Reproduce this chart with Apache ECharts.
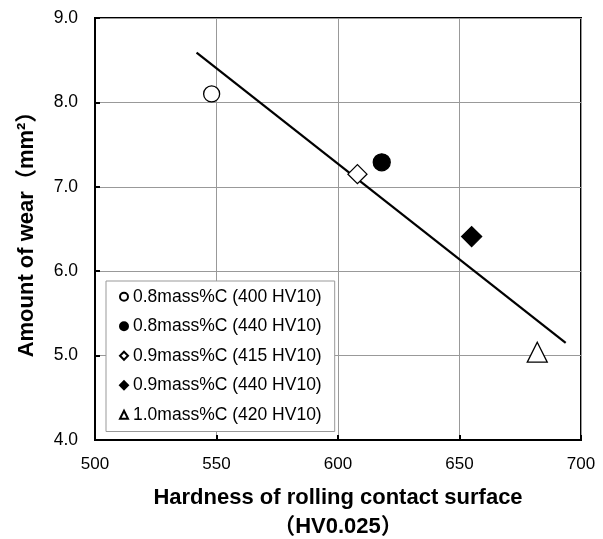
<!DOCTYPE html>
<html>
<head>
<meta charset="utf-8">
<script src="https://cdn.jsdelivr.net/npm/echarts@6/dist/echarts.min.js"></script>
<style>
html,body{margin:0;padding:0;background:#fff;}
#c{width:603px;height:539px;}
</style>
</head>
<body>
<div id="c"></div>
<script>
// ---- data ----
const seriesNames = [
  '0.8mass%C (400 HV10)',
  '0.8mass%C (440 HV10)',
  '0.9mass%C (415 HV10)',
  '0.9mass%C (440 HV10)',
  '1.0mass%C (420 HV10)'
];
const hardness = [548, 618, 608, 655, 682];
const wear = [8.10, 7.29, 7.15, 6.41, 5.04];
const trendX = [541.8, 693.7];
const trendY = [8.59, 5.15];
const xTicks = [500, 550, 600, 650, 700];
const yTicks = [4.0, 5.0, 6.0, 7.0, 8.0, 9.0];

const FONT = '"Liberation Sans", Arial, "Noto Sans CJK JP", sans-serif';
const styles = [
  {symbol: 'circle', size: 16, color: '#fff'},
  {symbol: 'circle', size: 17, color: '#000'},
  {symbol: 'diamond', size: 19, color: '#fff'},
  {symbol: 'diamond', size: 20, color: '#000'},
  {symbol: 'triangle', size: 20, color: '#fff'}
];

const series = seriesNames.map((n, i) => ({
  name: n,
  type: 'scatter',
  symbol: styles[i].symbol,
  symbolSize: styles[i].size,
  itemStyle: {color: styles[i].color, borderColor: '#000', borderWidth: 1.3, opacity: 1},
  data: [[hardness[i], wear[i]]],
  z: 5
}));
series.push({
  name: 'trend',
  type: 'line',
  data: trendX.map((x, i) => [x, trendY[i]]),
  showSymbol: false,
  symbol: 'none',
  lineStyle: {color: '#000', width: 2.2},
  silent: true,
  z: 3
});

const chart = echarts.init(document.getElementById('c'), null, {renderer: 'canvas'});
chart.setOption({
  animation: false,
  backgroundColor: '#fff',
  textStyle: {fontFamily: FONT},
  grid: {left: 95, right: 22, top: 18, bottom: 99, outerBoundsMode: 'none', containLabel: false,
         show: true, borderColor: '#000', borderWidth: 2, backgroundColor: 'transparent'},
  legend: {
    data: seriesNames,
    orient: 'vertical',
    left: 106,
    top: 281,
    itemWidth: 8,
    itemHeight: 8,
    itemGap: 12,
    padding: [7, 13, 8, 13],
    backgroundColor: '#fff',
    borderColor: '#999',
    borderWidth: 1,
    borderRadius: 0,
    textStyle: {fontFamily: FONT, fontSize: 17.5, color: '#000', lineHeight: 17.5}
  },
  xAxis: {
    type: 'value',
    min: xTicks[0], max: xTicks[xTicks.length - 1], interval: 50,
    name: 'Hardness of rolling contact surface\n（HV0.025）',
    nameLocation: 'middle',
    nameGap: 44,
    nameTextStyle: {fontFamily: FONT, fontSize: 22, fontWeight: 'bold', color: '#000', lineHeight: 28.5},
    axisLine: {show: true, lineStyle: {color: '#000', width: 2}},
    axisTick: {show: true, inside: true, length: 5, lineStyle: {color: '#000', width: 2}},
    axisLabel: {fontFamily: FONT, fontSize: 17, color: '#000', margin: 16},
    splitLine: {show: true, lineStyle: {color: '#999', width: 1}}
  },
  yAxis: {
    type: 'value',
    min: yTicks[0], max: yTicks[yTicks.length - 1], interval: 1,
    name: 'Amount of wear（mm²）',
    nameLocation: 'middle',
    nameGap: 57,
    nameTextStyle: {fontFamily: FONT, fontSize: 22, fontWeight: 'bold', color: '#000'},
    axisLine: {show: true, lineStyle: {color: '#000', width: 2}},
    axisTick: {show: true, inside: true, length: 5, lineStyle: {color: '#000', width: 2}},
    axisLabel: {fontFamily: FONT, fontSize: 17.5, color: '#000', margin: 17, formatter: v => v.toFixed(1)},
    splitLine: {show: true, lineStyle: {color: '#999', width: 1}}
  },
  series: series
});
</script>
</body>
</html>
